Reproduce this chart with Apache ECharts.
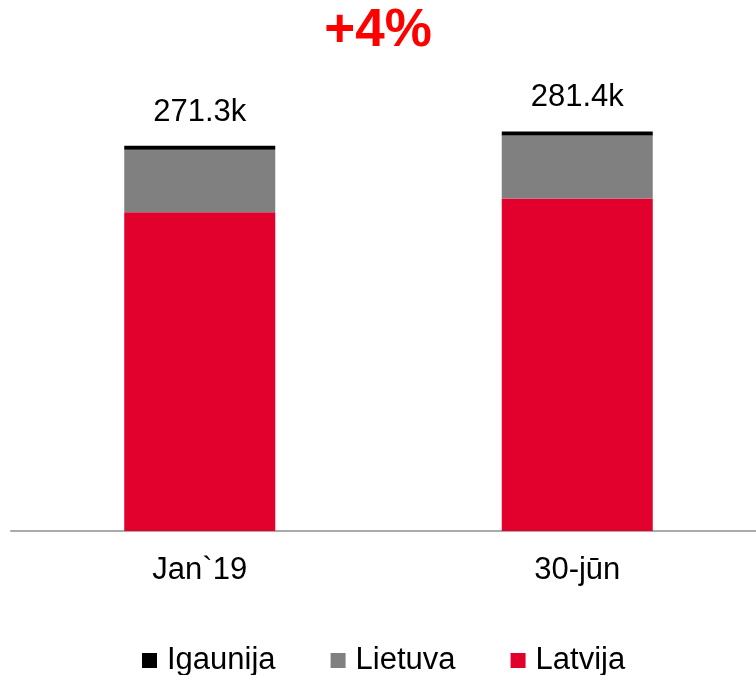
<!DOCTYPE html>
<html>
<head>
<meta charset="utf-8">
<script src="https://cdn.jsdelivr.net/npm/echarts@6/dist/echarts.min.js"></script>
<style>html,body{margin:0;padding:0;background:#fff}#c{width:756px;height:675px}</style>
</head>
<body>
<div id="c"></div>
<script>
var categories = ['Jan`19', '30-jūn'];
var latvija = [224.5, 234.2];
var lietuva = [43.9, 44.3];
var igaunija = [2.9, 2.9];
var legendNames = ['Igaunija', 'Lietuva', 'Latvija'];
var titleText = '+4%';

var totals = categories.map(function (c, i) { return latvija[i] + lietuva[i] + igaunija[i]; });
var FONT = '"Liberation Sans", Arial, sans-serif';

var chart = echarts.init(document.getElementById('c'), null, { renderer: 'canvas' });
chart.setOption({
  animation: false,
  backgroundColor: '#ffffff',
  title: {
    text: titleText,
    left: 'center',
    top: 0,
    textStyle: { color: '#ff0000', fontSize: 53, fontWeight: 'bold', fontFamily: FONT }
  },
  legend: {
    data: legendNames,
    left: 137,
    top: 640,
    itemWidth: 15,
    itemHeight: 15,
    itemGap: 55,
    icon: 'rect',
    textStyle: { fontSize: 31, color: '#000', fontFamily: FONT, padding: [0, 0, 0, 5] }
  },
  grid: { left: 11, right: -10, top: 105, bottom: 144, containLabel: false, outerBoundsMode: 'none' },
  xAxis: {
    type: 'category',
    data: categories,
    axisLine: { show: true, lineStyle: { color: '#aaaaaa', width: 2 } },
    axisTick: { show: false },
    axisLabel: { fontSize: 31, color: '#000', fontFamily: FONT, margin: 24 }
  },
  yAxis: {
    type: 'value',
    min: 0, max: 300,
    show: false,
    splitLine: { show: false }
  },
  series: [
    { name: 'Latvija', type: 'bar', stack: 'a', data: latvija, barWidth: 151, itemStyle: { color: '#e2002d' } },
    { name: 'Lietuva', type: 'bar', stack: 'a', data: lietuva, itemStyle: { color: '#808080' } },
    { name: 'Igaunija', type: 'bar', stack: 'a', data: igaunija, itemStyle: { color: '#000000' },
      label: {
        show: true, position: 'top', distance: 18,
        fontSize: 31, color: '#000', fontFamily: FONT,
        formatter: function (p) { return totals[p.dataIndex].toFixed(1) + 'k'; }
      }
    }
  ]
});
</script>
</body>
</html>
